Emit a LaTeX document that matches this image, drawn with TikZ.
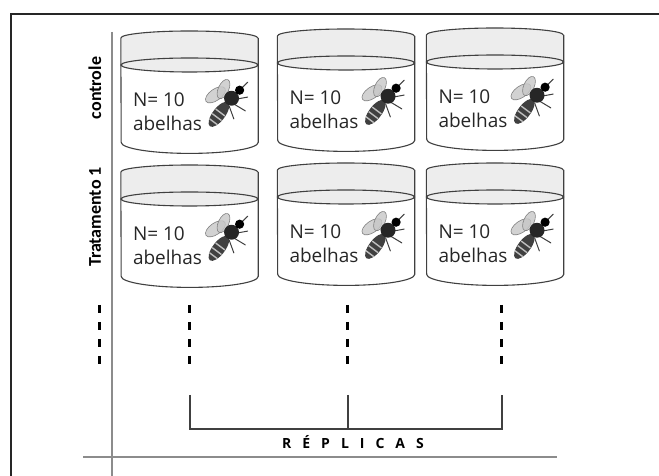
\documentclass[tikz,border=0pt]{standalone}
\usepackage{fontspec}
\setmainfont{Open Sans}
\newfontfamily\labelfont{Carlito}

\tikzset{
    jarbody/.style={rectangle, minimum width=137pt, minimum height=104pt, inner sep=0pt, anchor=north},
    jarline/.style={draw=black!75, line width=1.1pt},
    lid/.style={fill=black!7},
    count/.style={inner sep=0pt, anchor=base west, text=black!85, font=\fontsize{19}{24}\selectfont},
    rowlabel/.style={rotate=90, inner sep=0pt, font=\labelfont\bfseries\fontsize{18}{20}\selectfont},
    ticks/.style={line width=3pt, dash pattern=on 8pt off 9pt},
    axis/.style={draw=black!45, line width=2pt},
    bracket/.style={draw=black!75, line width=1.2pt},
    replabel/.style={inner sep=0pt, font=\bfseries\fontsize{14}{16}\selectfont},
    wing/.style={fill=black!22, draw=black!50, line width=0.6pt, fill opacity=0.8},
    leg/.style={draw=black!75, line width=1pt, line cap=round},
}

% bee, drawn around a named coordinate
\newcommand{\bee}[1]{%
    \begin{scope}[shift={(#1)}, scale=1.15]
        \filldraw[wing, rotate around={35:(-7,8)}] (-7,8) ellipse[x radius=10pt, y radius=5pt];
        \filldraw[wing, rotate around={65:(0,13)}] (0,13) ellipse[x radius=9pt, y radius=4.5pt];
        \begin{scope}
            \clip[rotate around={53:(-4,-9)}] (-4,-9) ellipse[x radius=13pt, y radius=5.5pt];
            \fill[black!75] (-20,-25) rectangle (10,5);
            \draw[black!25, line width=1.4pt] (-12.8,-12.4) -- (-4.8,-18.4)
                (-9.8,-8.4) -- (-1.8,-14.4) (-6.8,-4.4) -- (1.2,-10.4);
        \end{scope}
        \draw[leg] (10,4) -- (21,6) (9,0) -- (19,-6) (5,-2) -- (9,-13) (16,14) -- (21,19);
        \fill[black!85] (7,5) circle[radius=6.5pt];
        \fill[black] (14,12) circle[radius=4pt];
    \end{scope}
}

% jar: name, x of centre, y of rim
\newcommand{\jar}[3]{%
    \node[jarbody] (#1) at (#2,#3) {};
    \fill[lid] (#1.north west) arc[start angle=180, end angle=0, x radius=68.5pt, y radius=7pt]
        -- ([yshift=-27pt]#1.north east) arc[start angle=0, end angle=-180, x radius=68.5pt, y radius=7pt] -- cycle;
    \draw[jarline] (#1.north west) arc[start angle=180, end angle=0, x radius=68.5pt, y radius=7pt];
    \draw[jarline] ([yshift=-27pt]#1.north) ellipse[x radius=68.5pt, y radius=7pt];
    \draw[jarline] (#1.north east) -- (#1.south east)
        arc[start angle=0, end angle=-180, x radius=68.5pt, y radius=11pt] -- (#1.north west);
    \node[count] (#1-n) at ([xshift=12pt, yshift=-69pt]#1.north west) {N= 10};
    \node[count] (#1-a) at ([xshift=12pt, yshift=-93pt]#1.north west) {abelhas};
    \coordinate (#1-bee) at ([xshift=34pt, yshift=-66pt]#1.north);
    \bee{#1-bee}
}

\begin{document}
\begin{tikzpicture}[x=1pt, y=1pt]
    \useasboundingbox (0,0) rectangle (659,476);

    % frame and axes
    \draw[black!85, line width=1.6pt] (11,-5) -- (11,462) -- (670,462);
    \draw[axis] (112,444) -- (112,-5);
    \draw[axis] (83,19) -- (557,19);

    % row labels
    \node[rowlabel] (ctrl) at (95,388) {controle};
    \node[rowlabel] (trat) at (95,259) {Tratamento 1};

    % controle
    \jar{c1}{189.5}{438}
    \jar{c2}{346}{440}
    \jar{c3}{495}{441}

    % tratamento 1
    \jar{t1}{189.5}{304}
    \jar{t2}{346}{306}
    \jar{t3}{495}{306}

    % more rows and replicas
    \foreach \n/\x in {0/99, 1/189, 2/347, 3/501} {
        \coordinate (dash\n-top) at (\x,171);
        \coordinate (dash\n-end) at (\x,109);
        \draw[ticks] (dash\n-top) -- (dash\n-end);
    }

    % replicas bracket
    \coordinate (rep-l) at (190,81);
    \coordinate (rep-m) at (348,81);
    \coordinate (rep-r) at (502,81);
    \coordinate (rep-base) at (348,47);
    \draw[bracket] (rep-l) |- (rep-base) -| (rep-r);
    \draw[bracket] (rep-m) -- (rep-base);
    \node[replabel] (replicas) at (353,34) {R\kern11pt É\kern11pt P\kern11pt L\kern11pt I\kern11pt C\kern11pt A\kern11pt S};
\end{tikzpicture}
\end{document}
